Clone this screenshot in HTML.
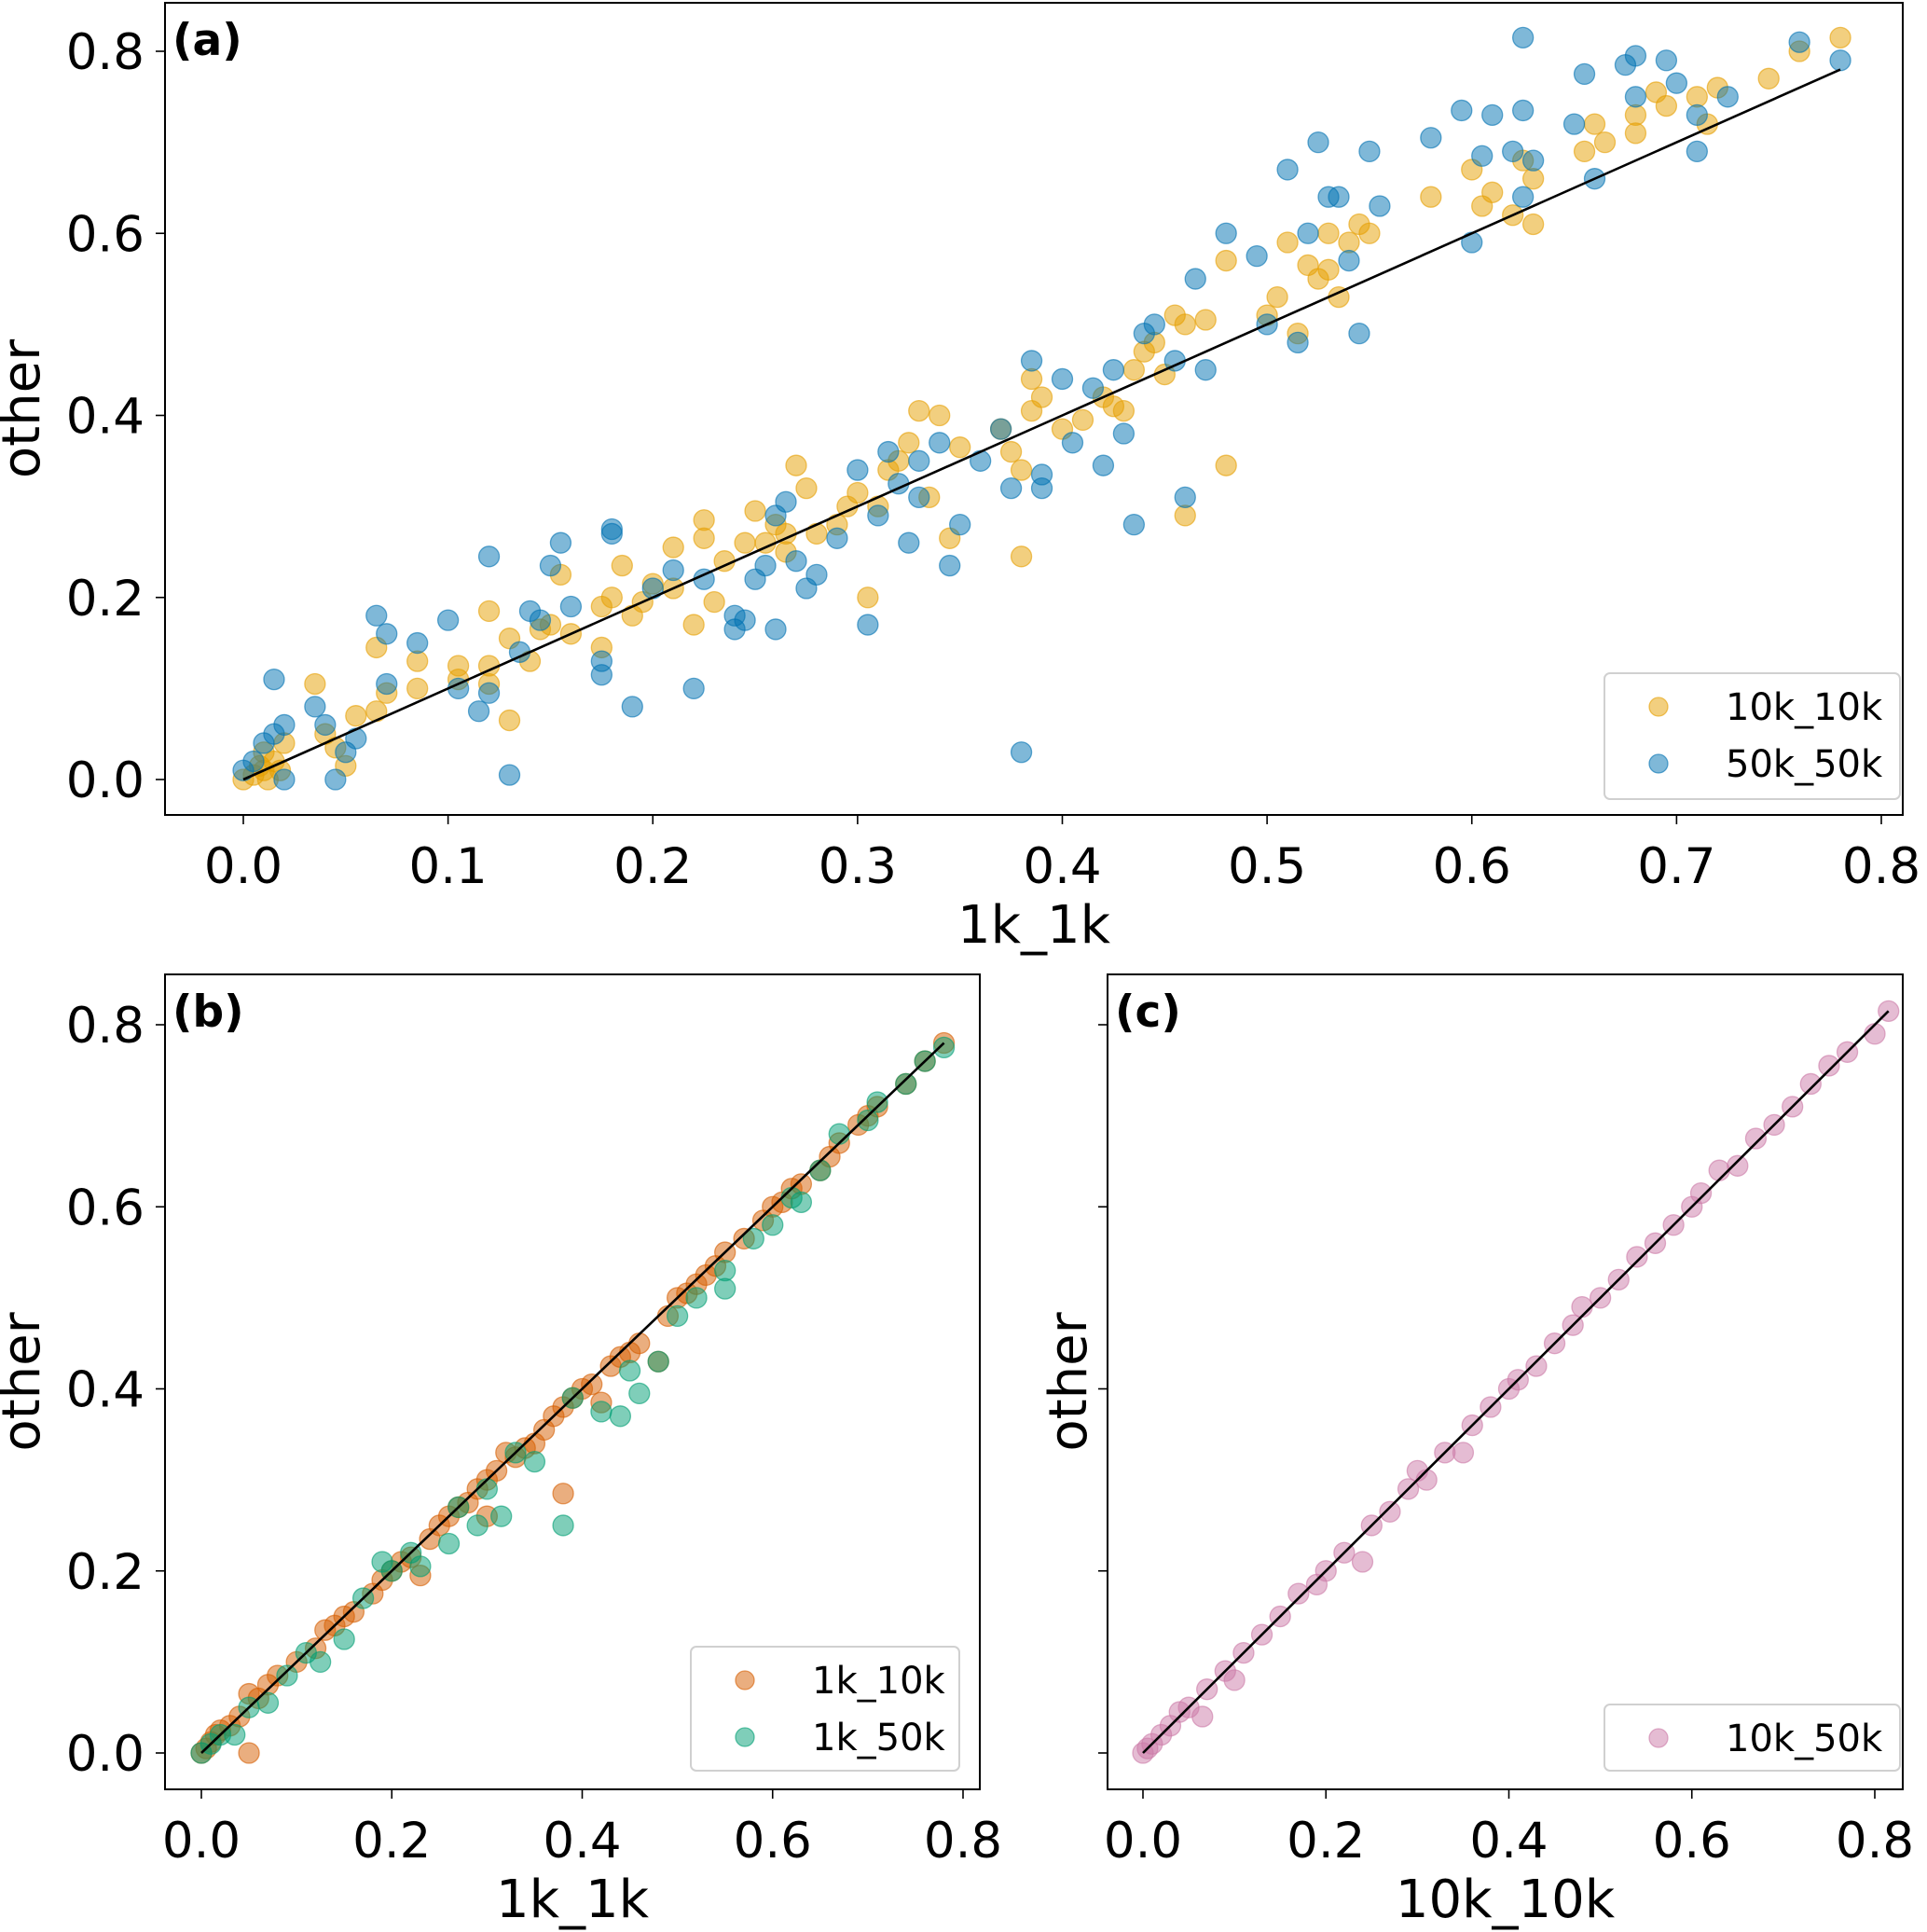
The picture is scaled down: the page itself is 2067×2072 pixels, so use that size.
<!DOCTYPE html>
<html><head><meta charset="utf-8"><style>
html,body{margin:0;padding:0;background:#fff;}
svg{display:block;font-family:"DejaVu Sans","Liberation Sans",sans-serif;}
</style></head><body>
<svg id="fig" width="2067" height="2072" viewBox="0 0 2067 2072" xmlns="http://www.w3.org/2000/svg"></svg>
<script>
// ---- data ----
const a_10k_10k = [[0,0],[0.005,0.005],[0.01,0.01],[0.015,0.02],[0.01,0.03],[0.02,0.04],[0.018,0.01],[0.012,0],[0.008,0.015],
[0.035,0.105],[0.04,0.05],[0.045,0.035],[0.05,0.015],[0.055,0.07],[0.065,0.075],[0.065,0.145],[0.07,0.095],[0.085,0.1],[0.085,0.13],[0.105,0.125],[0.105,0.11],[0.12,0.185],[0.12,0.105],[0.12,0.125],[0.13,0.065],[0.13,0.155],[0.14,0.13],[0.145,0.165],[0.15,0.17],[0.155,0.225],[0.16,0.16],[0.175,0.145],[0.175,0.19],[0.18,0.2],[0.185,0.235],[0.19,0.18],[0.195,0.195],[0.2,0.215],[0.21,0.21],[0.21,0.255],[0.22,0.17],[0.225,0.285],[0.225,0.265],[0.23,0.195],[0.235,0.24],[0.245,0.26],[0.25,0.295],[0.255,0.26],[0.26,0.28],[0.265,0.27],[0.265,0.25],[0.27,0.345],[0.275,0.32],[0.28,0.27],[0.29,0.28],[0.295,0.3],[0.3,0.315],[0.305,0.2],[0.31,0.3],[0.315,0.34],[0.32,0.35],[0.325,0.37],[0.33,0.405],[0.335,0.31],[0.34,0.4],[0.345,0.265],[0.35,0.365],[0.37,0.385],[0.375,0.36],[0.38,0.34],[0.38,0.245],[0.385,0.405],[0.385,0.44],[0.39,0.42],[0.4,0.385],[0.41,0.395],[0.42,0.42],[0.425,0.41],[0.43,0.405],[0.435,0.45],[0.44,0.47],[0.445,0.48],[0.45,0.445],[0.455,0.51],[0.46,0.5],[0.46,0.29],[0.47,0.505],[0.48,0.345],[0.48,0.57],[0.5,0.51],[0.505,0.53],[0.51,0.59],[0.515,0.49],[0.52,0.565],[0.525,0.55],[0.53,0.56],[0.53,0.6],[0.535,0.53],[0.54,0.59],[0.545,0.61],[0.55,0.6],[0.58,0.64],[0.6,0.67],[0.605,0.63],[0.61,0.645],[0.62,0.62],[0.625,0.68],[0.63,0.66],[0.63,0.61],[0.655,0.69],[0.66,0.72],[0.665,0.7],[0.68,0.73],[0.68,0.71],[0.69,0.755],[0.695,0.74],[0.71,0.75],[0.715,0.72],[0.72,0.76],[0.745,0.77],[0.76,0.8],[0.78,0.815]];
const a_50k_50k = [[0,0.01],[0.005,0.02],[0.01,0.04],[0.015,0.05],[0.015,0.11],[0.02,0.06],[0.02,0.0],[0.035,0.08],[0.04,0.06],[0.045,0],[0.05,0.03],[0.055,0.045],[0.065,0.18],[0.07,0.16],[0.07,0.105],[0.085,0.15],[0.1,0.175],[0.105,0.1],[0.115,0.075],[0.12,0.245],[0.12,0.095],[0.13,0.005],[0.135,0.14],[0.14,0.185],[0.145,0.175],[0.15,0.235],[0.155,0.26],[0.16,0.19],[0.175,0.13],[0.175,0.115],[0.18,0.275],[0.18,0.27],[0.19,0.08],[0.2,0.21],[0.21,0.23],[0.22,0.1],[0.225,0.22],[0.24,0.165],[0.24,0.18],[0.245,0.175],[0.25,0.22],[0.255,0.235],[0.26,0.29],[0.26,0.165],[0.265,0.305],[0.27,0.24],[0.275,0.21],[0.28,0.225],[0.29,0.265],[0.3,0.34],[0.305,0.17],[0.31,0.29],[0.315,0.36],[0.32,0.325],[0.325,0.26],[0.33,0.35],[0.33,0.31],[0.34,0.37],[0.345,0.235],[0.35,0.28],[0.36,0.35],[0.37,0.385],[0.375,0.32],[0.38,0.03],[0.385,0.46],[0.39,0.335],[0.39,0.32],[0.4,0.44],[0.405,0.37],[0.415,0.43],[0.42,0.345],[0.425,0.45],[0.43,0.38],[0.435,0.28],[0.44,0.49],[0.445,0.5],[0.455,0.46],[0.46,0.31],[0.465,0.55],[0.47,0.45],[0.48,0.6],[0.495,0.575],[0.5,0.5],[0.51,0.67],[0.515,0.48],[0.52,0.6],[0.525,0.7],[0.53,0.64],[0.535,0.64],[0.54,0.57],[0.545,0.49],[0.55,0.69],[0.555,0.63],[0.58,0.705],[0.595,0.735],[0.6,0.59],[0.605,0.685],[0.61,0.73],[0.62,0.69],[0.625,0.735],[0.625,0.64],[0.63,0.68],[0.625,0.815],[0.65,0.72],[0.655,0.775],[0.66,0.66],[0.675,0.785],[0.68,0.795],[0.68,0.75],[0.695,0.79],[0.7,0.765],[0.71,0.73],[0.71,0.69],[0.725,0.75],[0.76,0.81],[0.78,0.79]];
const b_1k_10k = [[0,0],[0.005,0.005],[0.01,0.012],[0.015,0.02],[0.02,0.025],[0.03,0.03],[0.04,0.04],[0.05,0.0],[0.05,0.065],[0.06,0.06],[0.07,0.075],[0.08,0.085],[0.1,0.1],[0.12,0.115],[0.13,0.135],[0.14,0.14],[0.15,0.15],[0.16,0.155],[0.18,0.175],[0.19,0.19],[0.2,0.2],[0.21,0.21],[0.22,0.215],[0.23,0.195],[0.24,0.235],[0.25,0.25],[0.26,0.26],[0.27,0.27],[0.28,0.275],[0.29,0.29],[0.3,0.3],[0.3,0.26],[0.31,0.31],[0.32,0.33],[0.33,0.325],[0.34,0.335],[0.35,0.34],[0.36,0.355],[0.37,0.37],[0.38,0.285],[0.38,0.38],[0.39,0.39],[0.4,0.4],[0.41,0.405],[0.42,0.385],[0.43,0.425],[0.44,0.435],[0.45,0.44],[0.46,0.45],[0.48,0.43],[0.49,0.48],[0.5,0.5],[0.51,0.505],[0.52,0.515],[0.53,0.525],[0.54,0.535],[0.55,0.55],[0.57,0.565],[0.59,0.585],[0.6,0.6],[0.61,0.605],[0.62,0.62],[0.63,0.625],[0.65,0.64],[0.66,0.655],[0.67,0.67],[0.69,0.69],[0.7,0.7],[0.71,0.71],[0.74,0.735],[0.76,0.76],[0.78,0.78]];
const b_1k_50k = [[0,0],[0.01,0.01],[0.02,0.02],[0.035,0.02],[0.05,0.05],[0.07,0.055],[0.09,0.085],[0.11,0.11],[0.125,0.1],[0.15,0.125],[0.17,0.17],[0.19,0.21],[0.2,0.2],[0.22,0.22],[0.23,0.205],[0.26,0.23],[0.27,0.27],[0.29,0.25],[0.3,0.29],[0.315,0.26],[0.33,0.33],[0.35,0.32],[0.38,0.25],[0.39,0.39],[0.42,0.375],[0.44,0.37],[0.45,0.42],[0.46,0.395],[0.48,0.43],[0.5,0.48],[0.52,0.5],[0.55,0.51],[0.55,0.53],[0.58,0.565],[0.6,0.58],[0.62,0.61],[0.63,0.605],[0.65,0.64],[0.67,0.68],[0.7,0.695],[0.71,0.715],[0.74,0.735],[0.76,0.76],[0.78,0.775]];
const c_10k_50k = [[0,0],[0.005,0.005],[0.01,0.01],[0.02,0.02],[0.03,0.03],[0.04,0.045],[0.05,0.05],[0.065,0.04],[0.07,0.07],[0.09,0.09],[0.1,0.08],[0.11,0.11],[0.13,0.13],[0.15,0.15],[0.17,0.175],[0.19,0.185],[0.2,0.2],[0.22,0.22],[0.24,0.21],[0.25,0.25],[0.27,0.265],[0.29,0.29],[0.3,0.31],[0.31,0.3],[0.33,0.33],[0.35,0.33],[0.36,0.36],[0.38,0.38],[0.4,0.4],[0.41,0.41],[0.43,0.425],[0.45,0.45],[0.47,0.47],[0.48,0.49],[0.5,0.5],[0.52,0.52],[0.54,0.545],[0.56,0.56],[0.58,0.58],[0.6,0.6],[0.61,0.615],[0.63,0.64],[0.65,0.645],[0.67,0.675],[0.69,0.69],[0.71,0.71],[0.73,0.735],[0.75,0.755],[0.77,0.77],[0.8,0.79],[0.815,0.815]];
const ticksA = ["0.0","0.1","0.2","0.3","0.4","0.5","0.6","0.7","0.8"];
const ticksBC = ["0.0","0.2","0.4","0.6","0.8"];
const ticksY = ["0.0","0.2","0.4","0.6","0.8"];
const fitA = [0, 0.78];
const fitB = [0, 0.78];
const fitC = [0, 0.815];

const NS="http://www.w3.org/2000/svg";
const svg=document.getElementById('fig');
function mk(tag,attrs,parent){const e=document.createElementNS(NS,tag);for(const k in attrs)e.setAttribute(k,attrs[k]);(parent||svg).appendChild(e);return e;}

function panel(cfg){
  const g=mk('g',{});
  
  
  const sx=v=>cfg.x0+(v/0.8)*(cfg.x8-cfg.x0);
  const sy=v=>cfg.y0+(v/0.8)*(cfg.y8-cfg.y0);
  cfg.series.forEach(s=>{
    const sg=mk('g',{},g);
    
    
    s.data.forEach(p=>{
      const c=mk('circle',{cx:sx(p[0]),cy:sy(p[1]),r:11,fill:s.color,'fill-opacity':0.5,stroke:s.color,'stroke-opacity':0.6,'stroke-width':1.3},sg);
      
      
    });
  });
  const ln=mk('line',{x1:sx(cfg.fit[0]),y1:sy(cfg.fit[0]),x2:sx(cfg.fit[1]),y2:sy(cfg.fit[1]),stroke:'#000','stroke-width':2.6},g);
  
  
  const fr=mk('rect',{x:cfg.L,y:cfg.T,width:cfg.R-cfg.L,height:cfg.B-cfg.T,fill:'none',stroke:'#000','stroke-width':2},g);
  
  
  cfg.xt.forEach(t=>{
    const x=sx(parseFloat(t));
    mk('line',{x1:x,y1:cfg.B,x2:x,y2:cfg.B+10,stroke:'#000','stroke-width':1.6},g);
    const tx=mk('text',{x:x,y:cfg.B+73,'font-size':53,'text-anchor':'middle'},g);
    tx.textContent=t;
    
    
  });
  ticksY.forEach(t=>{
    const y=sy(parseFloat(t));
    mk('line',{x1:cfg.L,y1:y,x2:cfg.L-10,y2:y,stroke:'#000','stroke-width':1.6},g);
    if(cfg.ylabels){
      const tx=mk('text',{x:cfg.L-22,y:y+19,'font-size':53,'text-anchor':'end'},g);
      tx.textContent=t;
      
      
    }
  });
  const xl=mk('text',{x:(cfg.L+cfg.R)/2,y:cfg.B+137,'font-size':56,'text-anchor':'middle'},g);
  xl.textContent=cfg.xlabel;
  
  
  const yc=(cfg.T+cfg.B)/2;
  const yl=mk('text',{x:cfg.ylx,y:yc,'font-size':56,'text-anchor':'middle',transform:`rotate(-90 ${cfg.ylx} ${yc})`},g);
  yl.textContent='other';
  
  
  const pl=mk('text',{x:cfg.L+8,y:cfg.T+56,'font-size':47,'font-weight':'bold'},g);
  pl.textContent=cfg.label;
  
  
  const lg=mk('g',{},g);
  
  
  mk('rect',{x:cfg.leg.x,y:cfg.leg.y,width:cfg.leg.w,height:cfg.leg.h,rx:6,fill:'#fff','fill-opacity':0.8,stroke:'#d0d0d0','stroke-width':2},lg);
  cfg.series.forEach((s,i)=>{
    const yy=cfg.leg.y+36+i*61;
    const e=mk('g',{},lg);
    
    
    mk('circle',{cx:cfg.leg.x+58,cy:yy,r:10,fill:s.color,'fill-opacity':0.5,stroke:s.color,'stroke-opacity':0.6,'stroke-width':1.3},e);
    const t=mk('text',{x:cfg.leg.x+130,y:yy+14,'font-size':40},e);
    t.textContent=s.name;
  });
}

panel({name:'panel-a',label:'(a)',L:177,R:2041,T:3,B:874,x0:261,x8:2018,y0:836,y8:55,xt:ticksA,ylabels:true,xlabel:'1k_1k',ylx:42,fit:fitA,
  series:[{name:'10k_10k',color:'#E69F00',data:a_10k_10k},{name:'50k_50k',color:'#0072B2',data:a_50k_50k}],
  leg:{x:1721,y:722,w:317,h:135}});
panel({name:'panel-b',label:'(b)',L:177,R:1051,T:1045,B:1919,x0:216,x8:1033,y0:1880,y8:1099,xt:ticksBC,ylabels:true,xlabel:'1k_1k',ylx:42,fit:fitB,
  series:[{name:'1k_10k',color:'#D55E00',data:b_1k_10k},{name:'1k_50k',color:'#009E73',data:b_1k_50k}],
  leg:{x:741,y:1766,w:288,h:133}});
panel({name:'panel-c',label:'(c)',L:1188,R:2041,T:1045,B:1919,x0:1226,x8:2011,y0:1880,y8:1099,xt:ticksBC,ylabels:false,xlabel:'10k_10k',ylx:1165,fit:fitC,
  series:[{name:'10k_50k',color:'#CC79A7',data:c_10k_50k}],
  leg:{x:1721,y:1828,w:317,h:71}});
</script>
</body></html>
